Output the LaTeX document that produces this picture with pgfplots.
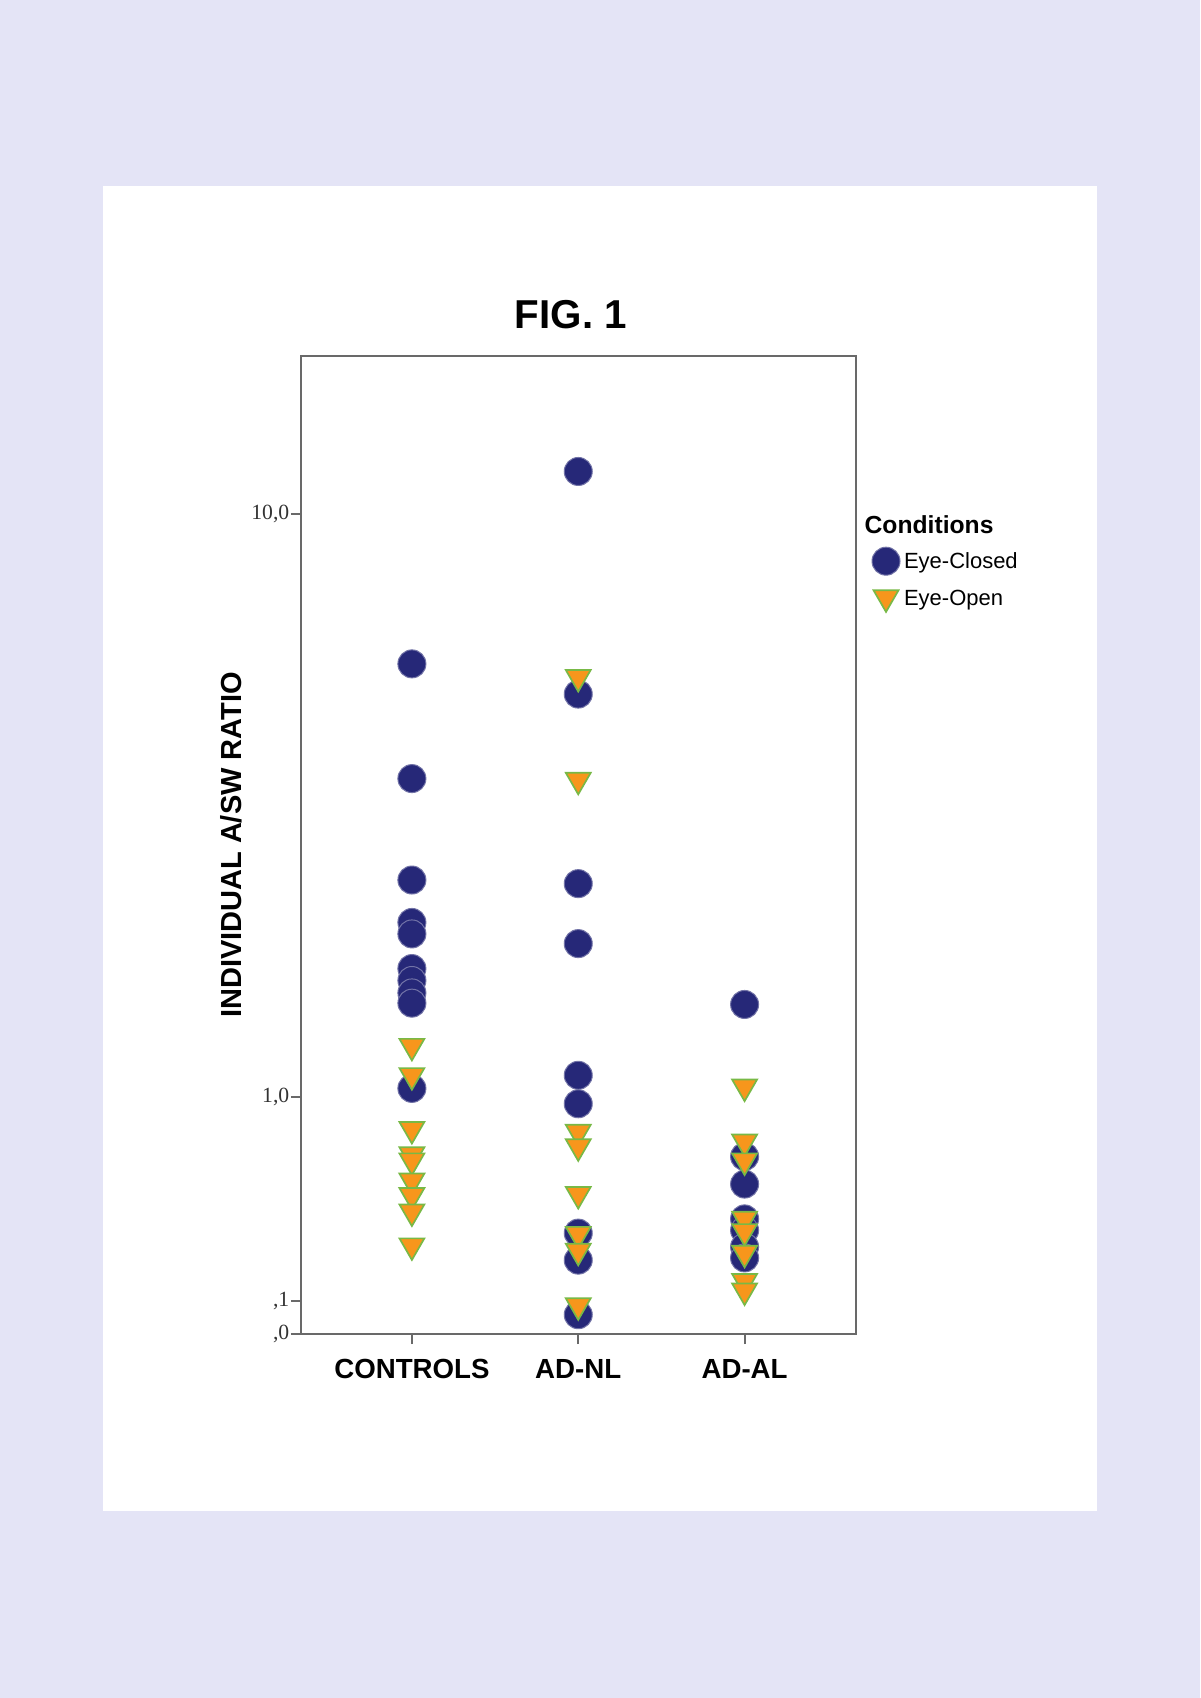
\documentclass[border=0pt]{standalone}
\usepackage{fontspec}
\setmainfont{Liberation Serif}
\setsansfont{Liberation Sans}
\usepackage{pgfplots}
\pgfplotsset{compat=1.18}
\definecolor{bgl}{RGB}{228,228,246}
\definecolor{navyc}{RGB}{38,40,120}
\definecolor{orangec}{RGB}{247,150,28}
\definecolor{greenc}{RGB}{120,185,70}
\definecolor{axgray}{RGB}{105,105,105}
\begin{document}
\begin{tikzpicture}
\fill[bgl] (-90.3pt,-109.2pt) rectangle (269.7pt,400.2pt);
\useasboundingbox (-90.3pt,-109.2pt) rectangle (269.7pt,400.2pt);
\fill[white] (-59.5pt,-53.1pt) rectangle (238.7pt,344.5pt);
\begin{axis}[
  at={(0pt,0pt)}, anchor=south west,
  scale only axis, width=166.35pt, height=293.4pt,
  xmin=-0.6667, xmax=2.6667, ymin=0, ymax=1.2414,
  clip=false,
  y filter/.expression={ln(y+1)/ln(10)},
  axis line style={axgray, line width=0.6pt},
  tick style={axgray, line width=0.6pt},
  tick align=outside, major tick length=3.0pt,
  xtick pos=lower, ytick pos=left,
  xtick={0,1,2}, xticklabels={CONTROLS,AD-NL,AD-AL},
  x tick label style={font=\sffamily\bfseries\fontsize{8.3}{10}\selectfont, text=black, yshift=-1pt},
  ytick={0,0.0413927,0.30103,1.0413927},
  yticklabels={{,0},{,1},{1,0},{10,0}},
  y tick label style={font=\fontsize{6.5}{7}\selectfont, text=black!80, inner sep=0pt, xshift=-0.3pt},
  ylabel={INDIVIDUAL A/SW RATIO},
  ylabel style={at={(axis description cs:-0.1255,0.5)}, anchor=center, font=\sffamily\bfseries\fontsize{8.7}{10}\selectfont},
  legend style={at={(axis description cs:1.0298,0.8045)}, anchor=north west, draw=none, fill=none, inner sep=0pt, outer sep=0pt,
    font=\sffamily\fontsize{6.6}{7.5}\selectfont, row sep=2.3pt, nodes={inner sep=1.2pt, yshift=-0.7pt}},
  legend cell align=left,
  legend image code/.code={\draw[#1] plot coordinates {(0pt,0pt)};},
]
% Eye-Closed
\addplot[only marks, mark=*, mark size=4.2pt, mark options={fill=navyc, draw=navyc!65!white, line width=0.3pt}] coordinates {
 (0,6.09) (0,4.07) (0,2.77) (0,2.33) (0,2.22) (0,1.91) (0,1.81) (0,1.71) (0,1.63) (0,1.05)
 (1,11.44) (1,5.49) (1,2.73) (1,2.13) (1,1.13) (1,0.96) (1,0.343) (1,0.241) (1,0.058)
 (2,1.62) (2,0.68) (2,0.55) (2,0.40) (2,0.354) (2,0.29) (2,0.249)
};
\addlegendentry{Eye-Closed}
% Eye-Open
\addplot[only marks, mark=triangle*, mark size=4.33pt, mark options={rotate=180, fill=orangec, draw=greenc, line width=0.5pt}] coordinates {
 (0,1.32) (0,1.13) (0,0.82) (0,0.69) (0,0.66) (0,0.565) (0,0.50) (0,0.43) (0,0.295)
 (1,5.82) (1,4.05) (1,0.805) (1,0.73) (1,0.505) (1,0.339) (1,0.275) (1,0.087)
 (2,1.06) (2,0.754) (2,0.66) (2,0.40) (2,0.35) (2,0.267) (2,0.167) (2,0.135)
};
\addlegendentry{Eye-Open}
\end{axis}
\node[font=\sffamily\bfseries\fontsize{12.1}{14}\selectfont] at (81pt,305.7pt) {FIG. 1};
\node[anchor=west, inner sep=0pt, font=\sffamily\bfseries\fontsize{7.4}{9}\selectfont] at (168.9pt,242.7pt) {Conditions};
\end{tikzpicture}
\end{document}
